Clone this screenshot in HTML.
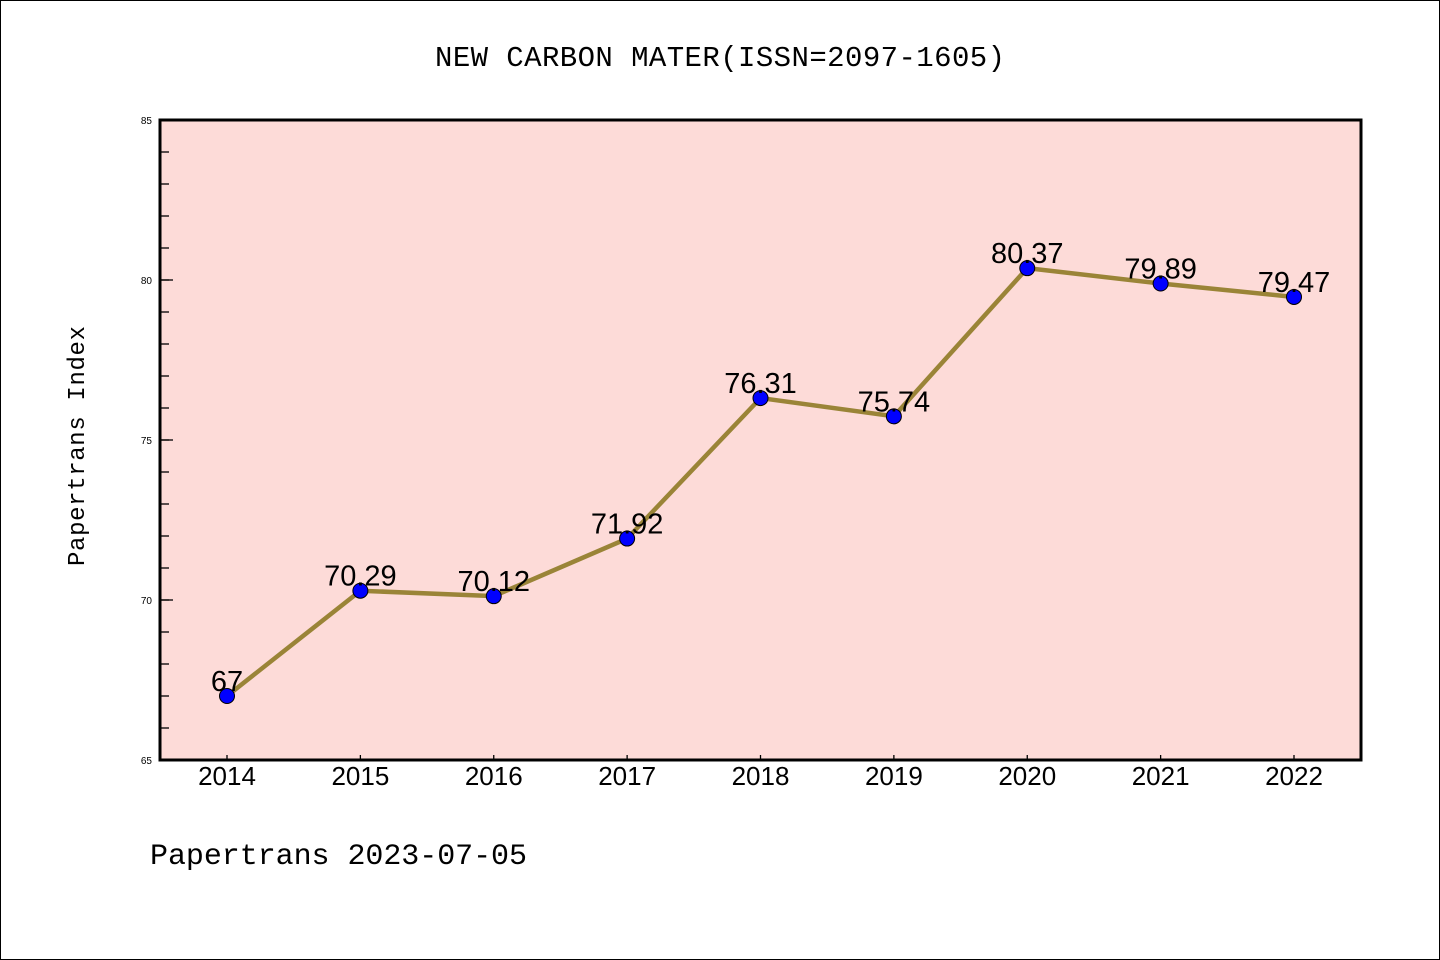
<!DOCTYPE html>
<html><head><meta charset="utf-8"><style>
body{margin:0;background:#fff}
svg{display:block;font-family:"Liberation Sans","DejaVu Sans",sans-serif}
</style></head><body>
<svg id="c" width="1440" height="960">
<rect x="0.5" y="0.5" width="1439" height="959" fill="#fff" stroke="#000"/>
<text x="720" y="66" text-anchor="middle" font-size="29" font-family="Liberation Mono,monospace" textLength="570">NEW CARBON MATER(ISSN=2097-1605)</text>
<rect x="160" y="120" width="1201" height="640" fill="#fddbd8"/>
<g id="ticks"></g>
<g id="series"></g>
<rect x="160" y="120" width="1201" height="640" fill="none" stroke="#000" stroke-width="3"/>
<text transform="translate(84,446) rotate(-90)" text-anchor="middle" font-size="24" font-family="Liberation Mono,monospace" textLength="240">Papertrans Index</text>
<text x="150" y="864" font-size="30" font-family="Liberation Mono,monospace" textLength="377">Papertrans 2023-07-05</text>
</svg>
<script>
const years=[2014,2015,2016,2017,2018,2019,2020,2021,2022];
const values=[67,70.29,70.12,71.92,76.31,75.74,80.37,79.89,79.47];
const labels=["67","70.29","70.12","71.92","76.31","75.74","80.37","79.89","79.47"];
const yTicks=[65,70,75,80,85];
const NS="http://www.w3.org/2000/svg";
const x=i=>227+i*(1294-227)/(years.length-1);
const y=v=>760-(v-65)*32;
function mk(t,a,p){const e=document.createElementNS(NS,t);for(const k in a)e.setAttribute(k,a[k]);p.appendChild(e);return e;}
const tg=document.getElementById('ticks');
for(let v=66;v<85;v++){const l=mk('line',{x1:160,x2:169,y1:y(v),y2:y(v),stroke:'#000','stroke-width':1.3},tg);

}
yTicks.forEach(v=>{const l=mk('line',{x1:160,x2:173,y1:y(v),y2:y(v),stroke:'#000','stroke-width':1.3},tg);


const t=mk('text',{x:152,y:y(v)+4,'text-anchor':'end','font-size':10},tg);t.textContent=v;

});
years.forEach((yr,i)=>{const l=mk('line',{x1:x(i),x2:x(i),y1:755,y2:760,stroke:'#000','stroke-width':1.3},tg);


const t=mk('text',{x:x(i),y:785,'text-anchor':'middle','font-size':26},tg);t.textContent=yr;

});
const sg=document.getElementById('series');
const pl=mk('polyline',{points:values.map((v,i)=>x(i)+','+y(v)).join(' '),fill:'none',stroke:'#9a8437','stroke-width':4.5},sg);


values.forEach((v,i)=>{const c=mk('circle',{cx:x(i),cy:y(v),r:7.5,fill:'#0000ff',stroke:'#000','stroke-width':1},sg);


const t=mk('text',{x:x(i),y:y(v)-5,'text-anchor':'middle','font-size':29},sg);t.textContent=labels[i];

});
</script>
</body></html>
